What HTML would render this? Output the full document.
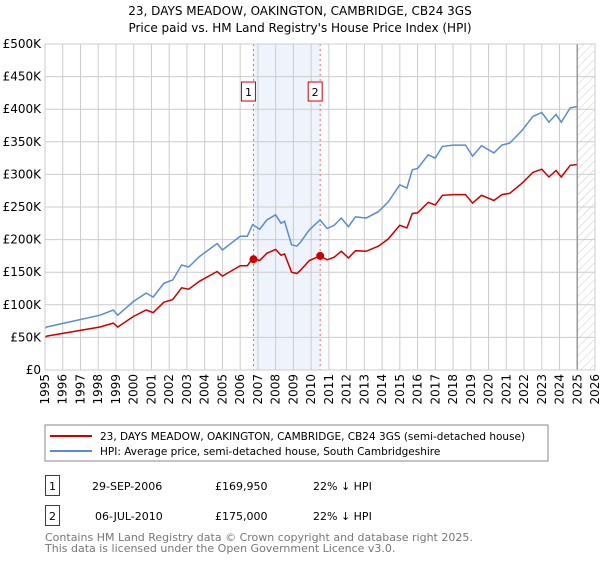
<!DOCTYPE html>
<html><head><meta charset="utf-8"><style>
body{margin:0;background:#fff;font-family:"Liberation Sans","DejaVu Sans",sans-serif;}
svg text{font-family:"DejaVu Sans","Liberation Sans",sans-serif;}
</style></head><body>
<svg id="chart" width="600" height="560" xmlns="http://www.w3.org/2000/svg">
<defs><pattern id="hatch" width="6" height="6" patternUnits="userSpaceOnUse" patternTransform="rotate(45)"><line x1="0" y1="0" x2="0" y2="6" stroke="#ccc" stroke-width="1"/></pattern></defs>
<text x="300" y="15" text-anchor="middle" font-size="12">23, DAYS MEADOW, OAKINGTON, CAMBRIDGE, CB24 3GS</text>
<text x="300" y="32" text-anchor="middle" font-size="12">Price paid vs. HM Land Registry's House Price Index (HPI)</text>
<g id="plot"></g>
<rect x="45" y="425" width="503" height="36" fill="#fff" stroke="#888"/>
<g><line x1="50" y1="436" x2="92" y2="436" stroke="#cc0000" stroke-width="2"/><text x="100" y="440" font-size="10.5">23, DAYS MEADOW, OAKINGTON, CAMBRIDGE, CB24 3GS (semi-detached house)</text></g>
<g><line x1="50" y1="451" x2="92" y2="451" stroke="#5b8ccc" stroke-width="2"/><text x="100" y="455" font-size="10.5">HPI: Average price, semi-detached house, South Cambridgeshire</text></g>
<g><rect x="45.5" y="475.5" width="14" height="20" fill="#fff" stroke="#cc0000"/><text x="52.5" y="490" text-anchor="middle" font-size="11">1</text><text x="92" y="490" font-size="11">29-SEP-2006</text><text x="215" y="490" font-size="11">£169,950</text><text x="313" y="490" font-size="11">22% ↓ HPI</text></g>
<g><rect x="45.5" y="505.5" width="14" height="20" fill="#fff" stroke="#cc0000"/><text x="52.5" y="520" text-anchor="middle" font-size="11">2</text><text x="95" y="520" font-size="11">06-JUL-2010</text><text x="215" y="520" font-size="11">£175,000</text><text x="313" y="520" font-size="11">22% ↓ HPI</text></g>
<text x="45" y="541" font-size="11" fill="#777">Contains HM Land Registry data © Crown copyright and database right 2025.</text>
<text x="45" y="552" font-size="11" fill="#777">This data is licensed under the Open Government Licence v3.0.</text>
</svg>
<script>
const hpiYears=[1995.0,1995.1,1998.1,1998.85,1999.1,1999.98,2000.7,2001.1,2001.7,2002.2,2002.7,2003.1,2003.7,2004.7,2005.0,2006.0,2006.4,2006.7,2007.1,2007.5,2008.0,2008.3,2008.5,2008.9,2009.2,2009.4,2009.9,2010.5,2010.9,2011.3,2011.7,2012.1,2012.5,2013.1,2013.8,2014.35,2015.0,2015.4,2015.7,2016.0,2016.6,2017.0,2017.4,2018.0,2018.7,2019.1,2019.6,2020.3,2020.75,2021.2,2021.9,2022.5,2023.0,2023.4,2023.8,2024.1,2024.6,2024.97];
const hpiValues=[64,66,84,92,84,105,118,112,133,138,161,158,174,194,184,205,205,223,216,230,238,225,228,192,190,196,215,230,217,222,233,220,235,233,243,258,284,279,307,309,330,325,343,345,345,328,344,333,345,348,368,389,395,380,392,380,402,404];
const priceValues=[50,52,66,72,66,82,92,88,104,108,126,124,136,151,144,160,160,171,168,179,185,176,178,150,148,153,168,175,169,173,182,172,183,182,190,201,222,218,240,241,257,253,268,269,269,256,268,260,269,271,287,303,308,296,306,296,314,315];
const saleYears=[2006.75,2010.51];
const saleValues=[169.95,175];
const saleLabels=['1','2'];
const yTicks=[0,50,100,150,200,250,300,350,400,450,500];
const yTickLabels=['£0','£50K','£100K','£150K','£200K','£250K','£300K','£350K','£400K','£450K','£500K'];
const xTicks=[1995,1996,1997,1998,1999,2000,2001,2002,2003,2004,2005,2006,2007,2008,2009,2010,2011,2012,2013,2014,2015,2016,2017,2018,2019,2020,2021,2022,2023,2024,2025,2026];
const NS='http://www.w3.org/2000/svg';
const X0=45,X1=595,Y0=370,Y1=44,XMIN=1995,XMAX=2026,YMAX=500,DATA_END=2025.0;
function xs(v){return X0+(v-XMIN)/(XMAX-XMIN)*(X1-X0);}
function ys(v){return Y0-v/YMAX*(Y0-Y1);}
const g=document.getElementById('plot');
function mk(t,a){const e=document.createElementNS(NS,t);for(const k in a)e.setAttribute(k,a[k]);g.appendChild(e);return e;}
let e=mk('rect',{x:xs(saleYears[0]),y:Y1,width:xs(saleYears[1])-xs(saleYears[0]),height:Y0-Y1,fill:'#eef3fc'});


e=mk('rect',{x:xs(DATA_END),y:Y1,width:X1-xs(DATA_END),height:Y0-Y1,fill:'url(#hatch)'});


yTicks.forEach((t,i)=>{
 e=mk('line',{x1:X0,x2:X1,y1:ys(t),y2:ys(t),stroke:'#ccc'});
 
 
 e=mk('text',{x:X0-4,y:ys(t)+4,'text-anchor':'end','font-size':'12'});e.textContent=yTickLabels[i];
 
 
});
xTicks.forEach(t=>{
 e=mk('line',{x1:xs(t),x2:xs(t),y1:Y1,y2:Y0,stroke:'#ccc'});
 
 
 const tx=xs(t)+4,ty=Y0+4;
 e=mk('text',{x:tx,y:ty,'text-anchor':'end','font-size':'12',transform:'rotate(-90 '+tx+' '+ty+')'});e.textContent=t;
 
 
});
e=mk('line',{x1:xs(DATA_END),x2:xs(DATA_END),y1:Y1,y2:Y0,stroke:'#999','stroke-width':1.5});


saleYears.forEach((s,i)=>{
 e=mk('line',{x1:xs(s),x2:xs(s),y1:Y1,y2:Y0,stroke:'#e66','stroke-dasharray':'2,3'});
 
 
 e=mk('rect',{x:xs(s)-12,y:82,width:14,height:19,fill:'#fff',stroke:'#cc0000'});
 
 
 e=mk('text',{x:xs(s)-5,y:96,'text-anchor':'middle','font-size':'11'});e.textContent=saleLabels[i];
 
 
});
function path(vals,col,name){
 const d=hpiYears.map((y,i)=>(i?'L':'M')+xs(y).toFixed(1)+','+ys(vals[i]).toFixed(1)).join('');
 e=mk('path',{d:d,fill:'none',stroke:col,'stroke-width':1.5});
 
 
}
path(hpiValues,'#5b8ccc','hpi-line');
path(priceValues,'#cc0000','price-line');
saleYears.forEach((s,i)=>{
 e=mk('circle',{cx:xs(s),cy:ys(saleValues[i]),r:4,fill:'#cc0000'});
 
 
});
e=mk('rect',{x:X0,y:Y1,width:X1-X0,height:Y0-Y1,fill:'none',stroke:'#ccc'});


</script>
</body></html>
